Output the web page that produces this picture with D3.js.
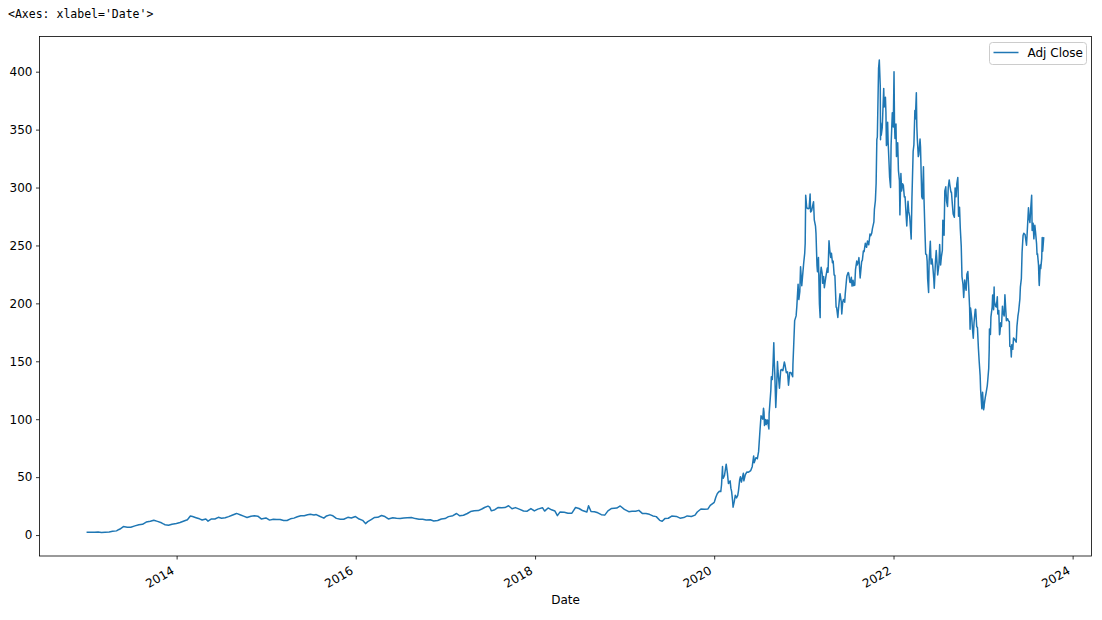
<!DOCTYPE html>
<html>
<head>
<meta charset="utf-8">
<script src="https://cdn.jsdelivr.net/npm/d3@7"></script>
<style>
  html, body { margin: 0; padding: 0; background: #fff; }
  svg { display: block; }
</style>
</head>
<body>
<script>
// ---------------- data ----------------
const dates = [
"2013-01-02","2013-01-15","2013-02-01","2013-02-15","2013-03-01","2013-03-15","2013-04-01","2013-04-15","2013-05-01","2013-05-09","2013-05-15","2013-05-29","2013-06-14","2013-06-28","2013-07-15","2013-07-31","2013-08-15","2013-08-30","2013-09-16","2013-09-30","2013-10-15","2013-10-31","2013-11-08","2013-11-15","2013-11-29","2013-12-13","2013-12-31",
"2014-01-15","2014-01-31","2014-02-14","2014-02-26","2014-03-07","2014-03-21","2014-04-04","2014-04-15","2014-04-30","2014-05-09","2014-05-23","2014-06-06","2014-06-20","2014-07-03","2014-07-18","2014-08-01","2014-08-15","2014-09-02","2014-09-05","2014-09-19","2014-10-01","2014-10-15","2014-10-31","2014-11-14","2014-11-28","2014-12-12","2014-12-31",
"2015-01-15","2015-01-30","2015-02-13","2015-02-27","2015-03-13","2015-03-27","2015-04-10","2015-04-24","2015-05-08","2015-05-22","2015-06-05","2015-06-19","2015-06-30","2015-07-15","2015-07-24","2015-08-07","2015-08-24","2015-09-04","2015-09-18","2015-09-30","2015-10-14","2015-10-30","2015-11-13","2015-11-30","2015-12-14","2015-12-31",
"2016-01-15","2016-01-29","2016-02-10","2016-02-19","2016-03-04","2016-03-18","2016-03-31","2016-04-15","2016-04-29","2016-05-13","2016-05-31","2016-06-15","2016-06-30","2016-07-15","2016-07-29","2016-08-15","2016-08-31","2016-09-15","2016-09-30","2016-10-14","2016-10-31","2016-11-14","2016-11-30","2016-12-15","2016-12-30",
"2017-01-13","2017-01-31","2017-02-15","2017-02-28","2017-03-15","2017-03-31","2017-04-13","2017-04-28","2017-05-15","2017-05-31","2017-06-09","2017-06-23","2017-06-30","2017-07-07","2017-07-21","2017-08-04","2017-08-18","2017-08-31","2017-09-15","2017-09-29","2017-10-13","2017-10-31","2017-11-15","2017-11-30","2017-12-15","2017-12-29",
"2018-01-12","2018-01-31","2018-02-09","2018-02-23","2018-03-09","2018-03-23","2018-04-02","2018-04-13","2018-04-30","2018-05-15","2018-05-31","2018-06-15","2018-06-29","2018-07-13","2018-07-31","2018-08-07","2018-08-17","2018-08-31","2018-09-14","2018-09-28","2018-10-12","2018-10-25","2018-11-09","2018-11-30","2018-12-14","2018-12-31",
"2019-01-18","2019-01-31","2019-02-15","2019-02-28","2019-03-15","2019-03-29","2019-04-12","2019-04-26","2019-05-10","2019-05-24","2019-06-03","2019-06-14","2019-06-28","2019-07-12","2019-07-31","2019-08-15","2019-08-30","2019-09-13","2019-09-30","2019-10-15","2019-10-24","2019-11-08","2019-11-22","2019-12-06","2019-12-16","2019-12-31",
"2020-01-02","2020-01-08","2020-01-14","2020-01-22","2020-01-28","2020-01-31","2020-02-04","2020-02-05","2020-02-07","2020-02-12","2020-02-19","2020-02-24","2020-02-28","2020-03-06","2020-03-09","2020-03-12","2020-03-16","2020-03-18","2020-03-23","2020-03-27","2020-04-01","2020-04-06","2020-04-09","2020-04-14","2020-04-17","2020-04-21","2020-04-29","2020-05-01","2020-05-07","2020-05-13","2020-05-20","2020-05-29","2020-06-04","2020-06-10","2020-06-12","2020-06-19","2020-06-25","2020-06-30","2020-07-06","2020-07-10","2020-07-14","2020-07-17","2020-07-20","2020-07-22","2020-07-24","2020-07-29","2020-07-31","2020-08-05","2020-08-11","2020-08-12","2020-08-19","2020-08-21","2020-08-25","2020-08-28","2020-08-31","2020-09-02","2020-09-04","2020-09-08","2020-09-11","2020-09-15","2020-09-17","2020-09-23","2020-09-28","2020-09-30","2020-10-07","2020-10-13","2020-10-16","2020-10-21","2020-10-26","2020-10-30","2020-11-04","2020-11-09","2020-11-16","2020-11-17","2020-11-20","2020-11-24","2020-11-30","2020-12-03","2020-12-08","2020-12-11","2020-12-15","2020-12-18","2020-12-23","2020-12-31",
"2021-01-04","2021-01-06","2021-01-08","2021-01-12","2021-01-14","2021-01-19","2021-01-22","2021-01-26","2021-01-28","2021-02-01","2021-02-05","2021-02-09","2021-02-12","2021-02-17","2021-02-19","2021-02-23","2021-02-25","2021-03-01","2021-03-04","2021-03-05","2021-03-08","2021-03-09","2021-03-12","2021-03-16","2021-03-18","2021-03-22","2021-03-25","2021-03-31","2021-04-06","2021-04-09","2021-04-13","2021-04-16","2021-04-20","2021-04-23","2021-04-27","2021-04-30","2021-05-04","2021-05-07","2021-05-12","2021-05-14","2021-05-19","2021-05-21","2021-05-25","2021-05-28","2021-06-02","2021-06-04","2021-06-08","2021-06-11","2021-06-16","2021-06-18","2021-06-23","2021-06-25","2021-06-30","2021-07-02","2021-07-07","2021-07-09","2021-07-13","2021-07-16","2021-07-20","2021-07-23","2021-07-27","2021-07-30","2021-08-04","2021-08-06","2021-08-11","2021-08-13","2021-08-18","2021-08-20","2021-08-24","2021-08-27","2021-08-31","2021-09-03","2021-09-08","2021-09-13","2021-09-17","2021-09-22","2021-09-27","2021-09-30","2021-10-04","2021-10-07","2021-10-13","2021-10-15","2021-10-19","2021-10-22","2021-10-25","2021-10-27","2021-11-01","2021-11-04","2021-11-08","2021-11-09","2021-11-10","2021-11-12","2021-11-16","2021-11-18","2021-11-22","2021-11-24","2021-11-29","2021-12-01","2021-12-03","2021-12-06","2021-12-08","2021-12-10","2021-12-14","2021-12-16","2021-12-20","2021-12-22","2021-12-27","2021-12-29","2021-12-31",
"2022-01-03","2022-01-05","2022-01-07","2022-01-11","2022-01-13","2022-01-18","2022-01-21","2022-01-25","2022-01-27","2022-01-31","2022-02-03","2022-02-07","2022-02-10","2022-02-14","2022-02-17","2022-02-22","2022-02-24","2022-03-01","2022-03-04","2022-03-08","2022-03-11","2022-03-14","2022-03-17","2022-03-22","2022-03-25","2022-03-29","2022-03-31","2022-04-04","2022-04-06","2022-04-08","2022-04-12","2022-04-14","2022-04-19","2022-04-21","2022-04-26","2022-04-29","2022-05-03","2022-05-05","2022-05-09","2022-05-12","2022-05-16","2022-05-18","2022-05-20","2022-05-24","2022-05-26","2022-05-31","2022-06-03","2022-06-07","2022-06-10","2022-06-14","2022-06-16","2022-06-21","2022-06-24","2022-06-28","2022-06-30","2022-07-05","2022-07-08","2022-07-12","2022-07-15","2022-07-19","2022-07-21","2022-07-26","2022-07-29","2022-08-02","2022-08-05","2022-08-09","2022-08-12","2022-08-16","2022-08-18","2022-08-23","2022-08-25","2022-08-29","2022-09-01","2022-09-06","2022-09-09","2022-09-13","2022-09-16","2022-09-20","2022-09-21","2022-09-23","2022-09-27","2022-09-30","2022-10-04","2022-10-07","2022-10-11","2022-10-14","2022-10-18","2022-10-21","2022-10-24","2022-10-27","2022-10-31","2022-11-03","2022-11-07","2022-11-09","2022-11-11","2022-11-16","2022-11-18","2022-11-22","2022-11-25","2022-11-30","2022-12-02","2022-12-06","2022-12-09","2022-12-13","2022-12-16","2022-12-20","2022-12-22","2022-12-27","2022-12-30",
"2023-01-03","2023-01-05","2023-01-06","2023-01-10","2023-01-13","2023-01-18","2023-01-20","2023-01-24","2023-01-26","2023-01-27","2023-01-31","2023-02-02","2023-02-03","2023-02-07","2023-02-09","2023-02-13","2023-02-15","2023-02-16","2023-02-21","2023-02-24","2023-02-28","2023-03-02","2023-03-06","2023-03-09","2023-03-10","2023-03-14","2023-03-17","2023-03-21","2023-03-23","2023-03-28","2023-03-31","2023-04-04","2023-04-06","2023-04-11","2023-04-14","2023-04-18","2023-04-20","2023-04-24","2023-04-26","2023-04-28","2023-05-02","2023-05-05","2023-05-09","2023-05-12","2023-05-16","2023-05-19","2023-05-23","2023-05-26","2023-05-31","2023-06-02","2023-06-06","2023-06-09","2023-06-13","2023-06-16","2023-06-21","2023-06-23","2023-06-27","2023-06-30","2023-07-05","2023-07-07","2023-07-11","2023-07-14","2023-07-18","2023-07-20","2023-07-24","2023-07-27","2023-07-31","2023-08-03","2023-08-07","2023-08-09","2023-08-11","2023-08-15","2023-08-17","2023-08-18","2023-08-22","2023-08-24","2023-08-28","2023-08-30","2023-09-01","2023-09-05"
];
const adjClose = [
2.36,2.38,2.50,2.60,2.30,2.45,2.65,3.20,3.60,4.60,5.20,7.30,6.80,6.70,7.90,8.94,9.30,11.20,11.90,12.85,11.80,10.60,9.60,8.90,8.50,9.40,10.00,
10.8,12.1,13.2,16.5,16.0,15.0,14.0,13.0,13.8,12.0,13.9,13.9,15.3,14.5,14.9,15.9,17.1,18.6,18.5,17.3,16.3,15.1,16.2,16.6,16.3,13.9,14.8,
12.9,13.6,13.5,13.5,12.6,12.6,14.0,14.6,15.8,16.6,16.7,17.5,17.9,17.3,17.7,16.2,14.6,16.5,17.4,16.6,14.4,13.7,13.6,15.3,14.7,16.0,
13.8,12.7,9.9,11.6,13.4,15.2,15.3,16.9,16.0,13.9,14.9,14.5,14.2,14.7,15.0,15.1,14.2,13.6,13.6,13.0,13.2,12.2,12.6,13.9,14.2,
15.9,16.7,18.6,16.6,17.1,18.6,20.3,20.9,21.1,22.7,23.8,25.0,24.1,20.9,21.9,23.8,23.6,23.7,25.3,22.7,23.7,22.2,20.8,20.6,22.9,20.8,
22.4,23.6,20.7,23.4,21.8,20.7,16.8,20.0,19.6,18.9,18.9,23.8,22.9,21.2,19.9,25.3,20.3,20.1,19.2,17.6,17.2,20.9,23.0,23.3,25.1,22.2,
20.2,20.5,20.5,21.3,18.5,18.6,17.9,16.5,15.9,12.7,11.9,14.2,14.5,16.4,16.1,14.6,15.1,16.5,16.0,17.2,19.9,22.5,22.2,22.4,25.6,27.9,
28.7,32.8,35.9,37.9,37.6,43.4,59.1,49.9,49.0,51.5,61.2,53.3,44.5,46.8,40.5,37.7,29.7,24.1,29.0,34.3,32.1,34.3,38.2,47.8,50.3,45.8,53.4,46.8,52.1,54.4,54.3,55.7,59.0,68.3,62.4,66.8,65.9,72.0,91.4,102.9,101.1,100.1,109.5,106.2,94.5,99.8,95.4,99.4,91.6,104.8,125.1,136.7,134.3,148.6,166.1,149.4,139.4,110.1,124.2,149.8,141.9,126.8,141.9,143.0,141.9,149.4,146.6,140.2,140.9,129.3,140.4,140.4,136.7,147.2,163.2,185.1,189.2,197.8,216.6,203.3,210.1,231.7,215.3,235.2,
243.3,251.9,293.3,283.1,282.1,281.7,282.2,294.4,278.8,279.9,284.0,287.8,272.0,266.6,260.4,232.7,227.4,239.5,207.7,199.3,187.7,224.5,231.2,226.1,217.3,223.3,213.5,222.6,230.5,226.8,254.1,246.3,239.7,243.2,235.1,236.5,224.5,224.1,196.6,196.6,187.8,193.5,202.6,208.4,201.2,190.9,201.2,203.3,201.0,207.8,219.7,223.7,226.6,226.2,218.3,218.0,222.6,214.9,220.0,215.3,215.7,229.1,236.5,233.1,236.6,239.5,221.9,226.8,236.0,237.3,245.2,244.7,251.9,248.4,253.9,250.6,259.9,258.5,260.5,264.5,270.4,281.1,288.6,303.2,341.6,343.5,402.9,410.0,387.2,341.2,355.7,345.2,351.6,362.8,385.6,369.5,378.0,365.0,336.3,339.0,356.3,339.2,319.5,309.0,300.0,336.0,364.6,362.1,352.3,
399.9,354.5,342.3,354.8,326.7,338.6,314.6,306.1,276.4,312.2,297.0,303.3,301.9,291.9,292.1,273.8,266.9,288.1,279.4,274.8,265.1,255.5,290.5,331.3,336.9,366.5,359.2,381.8,352.4,341.8,326.7,328.3,341.8,335.0,292.0,290.3,318.0,291.7,262.4,242.7,241.9,236.5,221.3,209.4,235.9,253.7,234.0,238.3,232.2,221.3,213.1,236.5,245.7,232.7,224.5,233.1,250.8,233.1,240.1,245.7,271.7,258.9,297.1,300.6,288.2,283.7,300.0,306.6,303.0,296.1,296.1,284.8,277.2,274.4,299.7,292.1,303.4,308.7,300.8,275.3,282.9,265.3,249.4,223.1,216.5,205.0,220.2,214.4,211.3,225.1,227.5,215.3,197.1,177.6,196.0,186.9,180.2,169.9,182.9,194.7,194.9,179.8,179.1,161.0,150.2,137.8,125.4,109.1,123.2,
108.1,110.3,113.1,118.9,122.4,128.8,133.4,143.9,160.3,177.9,173.2,188.3,190.0,196.8,207.3,194.6,214.2,202.0,197.4,196.9,205.7,190.9,193.8,172.9,173.4,183.3,180.1,197.6,192.2,189.2,207.5,192.6,185.1,186.8,185.0,184.3,163.0,162.6,153.8,164.3,160.3,170.1,169.2,168.0,166.5,180.1,188.9,193.2,203.9,214.0,221.3,244.4,258.7,260.5,259.5,256.6,250.2,261.8,282.5,274.4,269.8,281.4,293.3,262.9,269.1,255.7,267.4,261.1,251.5,242.2,242.7,233.0,219.2,215.5,233.2,230.0,238.8,256.9,245.0,256.5
];
const seriesName = "Adj Close";
const yTicks = [0, 50, 100, 150, 200, 250, 300, 350, 400];
const xTickYears = [2014, 2016, 2018, 2020, 2022, 2024];
const headerText = "<Axes: xlabel='Date'>";
const xLabel = "Date";

// ---------------- layout ----------------
const W = 1102, H = 620;
const plot = { left: 39.5, right: 1091.5, top: 36.5, bottom: 556 };
const color = "#1f77b4";
const fontFamily = "'DejaVu Sans', sans-serif";

const parse = d3.timeParse("%Y-%m-%d");
const data = dates.map((d, i) => ({ date: parse(d), v: adjClose[i] }));

const svg = d3.select("body").append("svg").attr("width", W).attr("height", H);

// matplotlib-like 5% margins
const xExt = d3.extent(data, d => +d.date);
const xPad = (xExt[1] - xExt[0]) * 0.05;
const x = d3.scaleTime()
  .domain([new Date(xExt[0] - xPad), new Date(xExt[1] + xPad)])
  .range([plot.left, plot.right]);
const yExt = d3.extent(data, d => d.v);
const yPad = (yExt[1] - yExt[0]) * 0.05;
const y = d3.scaleLinear()
  .domain([yExt[0] - yPad, yExt[1] + yPad])
  .range([plot.bottom, plot.top]);

// header
svg.append("text")
  .attr("x", 8).attr("y", 18)
  .attr("font-family", "'DejaVu Sans Mono', monospace")
  .attr("font-size", 11.5)
  .attr("fill", "#000")
  .text(headerText);

// line
const clipId = "clip";
svg.append("clipPath").attr("id", clipId).append("rect")
  .attr("x", plot.left).attr("y", plot.top)
  .attr("width", plot.right - plot.left).attr("height", plot.bottom - plot.top);

svg.append("path")
  .datum(data)
  .attr("clip-path", `url(#${clipId})`)
  .attr("fill", "none")
  .attr("stroke", color)
  .attr("stroke-width", 1.5)
  .attr("stroke-linejoin", "round")
  .attr("stroke-linecap", "square")
  .attr("d", d3.line().x(d => x(d.date)).y(d => y(d.v)));

// y axis
const yAxis = d3.axisLeft(y).tickValues(yTicks).tickSize(3.5).tickPadding(3.5).tickFormat(d3.format("d"));
const gy = svg.append("g").attr("transform", `translate(${plot.left},0)`).call(yAxis);
gy.select(".domain").remove();
gy.selectAll("line").attr("stroke", "#000").attr("stroke-width", 0.8);
gy.selectAll("text").attr("font-family", fontFamily).attr("font-size", 12).attr("fill", "#000");

// x axis
const xTickDates = xTickYears.map(yv => new Date(yv, 0, 1));
const xAxis = d3.axisBottom(x).tickValues(xTickDates).tickSize(3.5).tickFormat(d3.timeFormat("%Y"));
const gx = svg.append("g").attr("transform", `translate(0,${plot.bottom})`).call(xAxis);
gx.select(".domain").remove();
gx.selectAll("line").attr("stroke", "#000").attr("stroke-width", 0.8);
gx.selectAll("text")
  .attr("font-family", fontFamily).attr("font-size", 12).attr("fill", "#000")
  .attr("text-anchor", "end")
  .attr("y", 0).attr("dy", 0)
  .attr("transform", "translate(-2,17) rotate(-30)");

// frame
svg.append("rect")
  .attr("x", plot.left).attr("y", plot.top)
  .attr("width", plot.right - plot.left).attr("height", plot.bottom - plot.top)
  .attr("fill", "none").attr("stroke", "#000").attr("stroke-width", 0.8);

// x label
svg.append("text")
  .attr("x", (plot.left + plot.right) / 2).attr("y", 604)
  .attr("text-anchor", "middle")
  .attr("font-family", fontFamily).attr("font-size", 12).attr("fill", "#000")
  .text(xLabel);

// legend
const lg = svg.append("g");
const lgX = 989.5, lgY = 42.5, lgW = 97, lgH = 22;
lg.append("rect")
  .attr("x", lgX).attr("y", lgY).attr("width", lgW).attr("height", lgH)
  .attr("rx", 3).attr("ry", 3)
  .attr("fill", "#fff").attr("fill-opacity", 0.8)
  .attr("stroke", "#cccccc").attr("stroke-width", 1);
lg.append("line")
  .attr("x1", lgX + 4).attr("x2", lgX + 29)
  .attr("y1", lgY + 10).attr("y2", lgY + 10)
  .attr("stroke", color).attr("stroke-width", 1.5);
lg.append("text")
  .attr("x", lgX + 38).attr("y", lgY + 14.5)
  .attr("font-family", fontFamily).attr("font-size", 12).attr("fill", "#000")
  .text(seriesName);
</script>
</body>
</html>
